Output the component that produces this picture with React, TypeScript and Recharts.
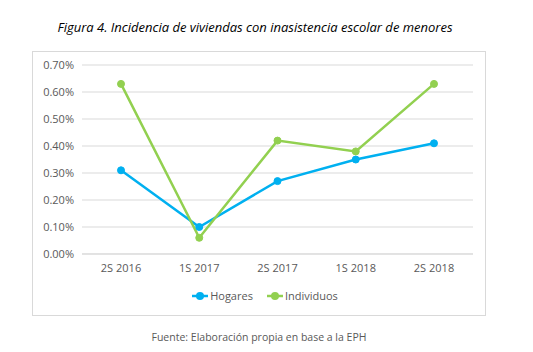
import { LineChart, Line, XAxis, YAxis, CartesianGrid } from "recharts"

const periods = ["2S 2016", "1S 2017", "2S 2017", "1S 2018", "2S 2018"]
const hogares = [0.31, 0.1, 0.27, 0.35, 0.41]
const individuos = [0.63, 0.06, 0.42, 0.38, 0.63]
const yTicks = [0, 0.1, 0.2, 0.3, 0.4, 0.5, 0.6, 0.7]

const BLUE = "#00B0F0"
const GREEN = "#92D050"
const FONT = "'Open Sans', 'DejaVu Sans', sans-serif"

const data = periods.map((p, i) => ({
  period: p,
  Hogares: hogares[i],
  Individuos: individuos[i],
}))

function LegendBox() {
  const items = [
    { name: "Hogares", color: BLUE },
    { name: "Individuos", color: GREEN },
  ]
  return (
    <div style={{ display: "flex", justifyContent: "center", gap: 14, fontFamily: FONT, fontSize: 11, color: "#595959" }}>
      {items.map(it => (
        <div key={it.name} style={{ display: "flex", alignItems: "center" }}>
          <svg width={16} height={10} style={{ marginRight: 2 }}>
            <line x1={0} y1={5} x2={16} y2={5} stroke={it.color} strokeWidth={2.5} />
            <circle cx={8} cy={5} r={4} fill={it.color} />
          </svg>
          <span>{it.name}</span>
        </div>
      ))}
    </div>
  )
}

export default function App() {
  return (
    <div style={{ position: "absolute", left: 0, top: 0, width: 533, height: 352, background: "#fff" }}>
      {/* title */}
      <div
        style={{
          position: "absolute",
          top: 18,
          left: 0,
          width: 510,
          textAlign: "center",
          fontFamily: FONT,
          fontStyle: "italic",
          fontSize: 13,
          color: "#000",
        }}
      >
        Figura 4. Incidencia de viviendas con inasistencia escolar de menores
      </div>

      {/* chart frame */}
      <div
        style={{
          position: "absolute",
          left: 32,
          top: 51,
          width: 452,
          height: 263,
          border: "1px solid #d9d9d9",
        }}
      />

      <div style={{ position: "absolute", left: 0, top: 0 }}>
        <LineChart width={533} height={352} data={data} margin={{ top: 65, right: 60, bottom: 68, left: 32 }}>
          <CartesianGrid vertical={false} stroke="#d9d9d9" />
          <XAxis
            dataKey="period"
            axisLine={{ stroke: "#d9d9d9" }}
            tickLine={false}
            tickSize={0}
            tickMargin={10}
            padding={{ left: 39, right: 39 }}
            tick={{ fill: "#595959", fontSize: 11, fontFamily: FONT }}
            height={30}
          />
          <YAxis
            domain={[0, 0.7]}
            ticks={yTicks}
            width={50}
            axisLine={false}
            tickLine={false}
            tickSize={0}
            tickMargin={8}
            tickFormatter={(v: number) => v.toFixed(2) + "%"}
            tick={{ fill: "#595959", fontSize: 11, fontFamily: FONT }}
          />
          <Line
            type="linear"
            dataKey="Hogares"
            stroke={BLUE}
            strokeWidth={2.5}
            dot={{ r: 3.5, fill: BLUE, stroke: BLUE, strokeWidth: 1 }}
            isAnimationActive={false}
          />
          <Line
            type="linear"
            dataKey="Individuos"
            stroke={GREEN}
            strokeWidth={2.5}
            dot={{ r: 3.5, fill: GREEN, stroke: GREEN, strokeWidth: 1 }}
            isAnimationActive={false}
          />
        </LineChart>
      </div>

      {/* legend */}
      <div style={{ position: "absolute", top: 288, left: 32, width: 466 }}>
        <LegendBox />
      </div>

      {/* source note */}
      <div
        style={{
          position: "absolute",
          top: 330,
          left: 0,
          width: 518,
          textAlign: "center",
          fontFamily: FONT,
          fontSize: 10.5,
          color: "#595959",
        }}
      >
        Fuente: Elaboración propia en base a la EPH
      </div>
    </div>
  )
}
